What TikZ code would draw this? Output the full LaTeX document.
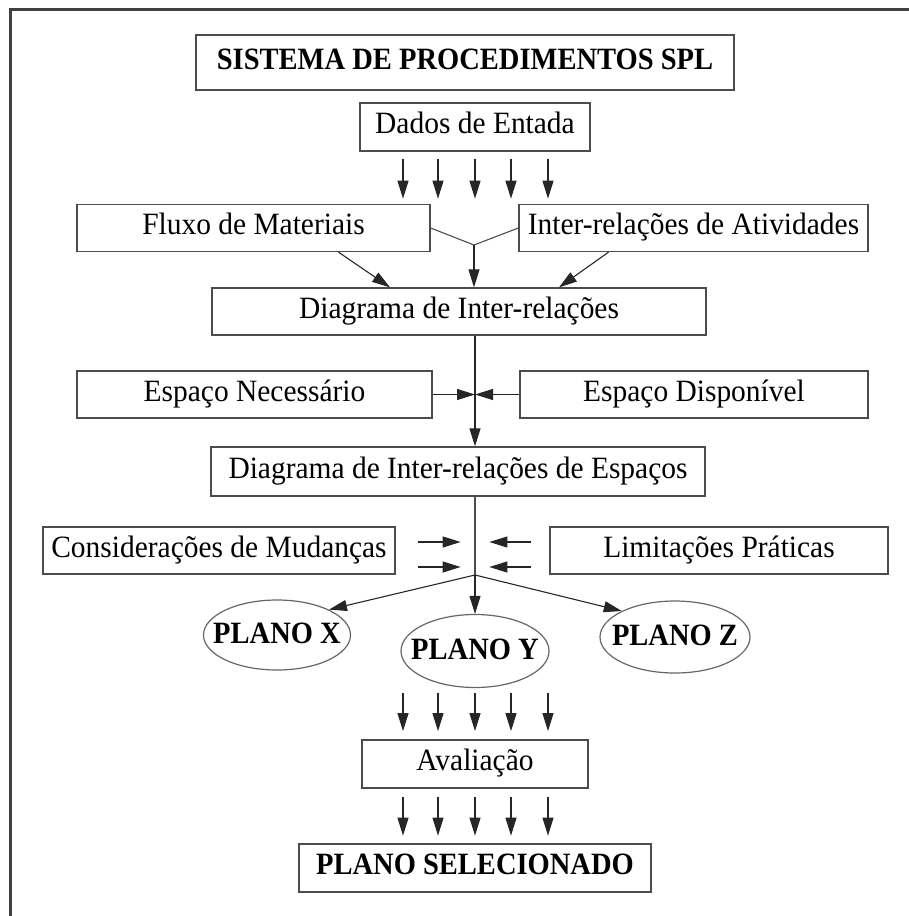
\documentclass[tikz,border=0pt]{standalone}
\usepackage{fontspec}
\setmainfont{Liberation Serif}[FakeStretch=0.95, BoldFeatures={FakeStretch=0.92}]
\usetikzlibrary{shapes.geometric, arrows.meta}
\tikzstyle{box} = [draw=black!70, line width=1.3pt, inner sep=0pt, minimum height=47pt,
	text height=20pt, text depth=7pt, font=\fontsize{31}{37}\selectfont]
\tikzstyle{titlebox} = [box, font=\fontsize{31}{37}\selectfont\bfseries]
\tikzstyle{plano} = [ellipse, draw=black!60, line width=1.2pt, inner xsep=-20pt, inner ysep=0pt,
	text height=20pt, text depth=4pt, font=\fontsize{31}{37}\selectfont\bfseries]
\tikzstyle{arrow} = [line width=1.1pt, draw=black!85, -{Triangle[length=18pt,width=11pt]}]
\tikzstyle{joinline} = [line width=1.1pt, draw=black!70]

\begin{document}
\begin{tikzpicture}[x=1pt,y=-1pt]
	\useasboundingbox (0,0) rectangle (909,916);
	% moldura
	\draw[line width=3pt, black!75] (10,920) -- (10,9) -- (912,9);
	
	% caixas
	\node[titlebox, minimum width=538pt, minimum height=55pt] (sistema) at (465,62.5) {SISTEMA DE PROCEDIMENTOS SPL};
	\node[box, minimum width=230pt, minimum height=48pt] (dados) at (475,127) {Dados de Entada};
	\node[box, minimum width=353pt] (fluxo) at (253.5,228) {Fluxo de Materiais};
	\node[box, minimum width=349pt] (ativ) at (693.5,228) {Inter-relações de Atividades};
	\node[box, minimum width=494pt] (diagrama) at (459,311.5) {Diagrama de Inter-relações};
	\node[box, minimum width=355pt] (necess) at (254.5,394.5) {Espaço Necessário};
	\node[box, minimum width=348pt] (dispon) at (694,394.5) {Espaço Disponível};
	\node[box, minimum width=494pt, minimum height=49pt] (espacos) at (458,471.5) {Diagrama de Inter-relações de Espaços};
	\node[box, minimum width=352pt] (mudancas) at (219,550.5) {Considerações de Mudanças};
	\node[box, minimum width=338pt] (limites) at (719,550.5) {Limitações Práticas};
	\node[plano, minimum width=147pt, minimum height=70pt] (planox) at (277,635) {PLANO X};
	\node[plano, minimum width=148pt, minimum height=73pt] (planoy) at (475,651) {PLANO Y};
	\node[plano, minimum width=150pt, minimum height=72pt] (planoz) at (675,637) {PLANO Z};
	\node[box, minimum width=226pt, minimum height=48pt] (avaliacao) at (475,764) {Avaliação};
	\node[titlebox, minimum width=352pt, minimum height=48pt] (selecionado) at (475,868) {PLANO SELECIONADO};
	
	% pontos de ligacao
	\coordinate (bif) at (474,245);
	\coordinate (esp1) at (475,394.5);
	\coordinate (leque) at (475,575);
	
	% ligacoes
	\draw[joinline] (fluxo.east) -- (bif) -- (ativ.west);
	\draw[arrow] (bif) -- (bif |- diagrama.north);
	\draw[arrow] ([xshift=85pt]fluxo.south) -- ([xshift=-69pt]diagrama.north);
	\draw[arrow] ([xshift=-85pt]ativ.south) -- ([xshift=100pt]diagrama.north);
	\draw[arrow] (diagrama.south -| esp1) -- (espacos.north -| esp1);
	\draw[arrow] (necess.east) -- (esp1);
	\draw[arrow] (dispon.west) -- (esp1);
	\draw[joinline] (espacos.south -| leque) -- (leque);
	\draw[arrow] (leque) -- (planox.26);
	\draw[arrow] (leque) -- (planoy.north);
	\draw[arrow] (leque) -- (planoz.154);
	
	\foreach \dy in {8.5,-16.5} {
		\draw[arrow] ([xshift=22pt,yshift=\dy pt]mudancas.east) -- ++(43,0);
		\draw[arrow] ([xshift=-18pt,yshift=\dy pt]limites.west) -- ++(-42,0);
	}
	
	\foreach \dx in {-72,-37,0,36,73} {
		\draw[arrow] ([xshift=\dx pt,yshift=-7pt]dados.south) -- ++(0,40);
		\draw[arrow] ([xshift=\dx pt,yshift=-5pt]planoy.south) -- ++(0,38);
		\draw[arrow] ([xshift=\dx pt,yshift=-8pt]avaliacao.south) -- ++(0,39);
	}
\end{tikzpicture}
\end{document}
